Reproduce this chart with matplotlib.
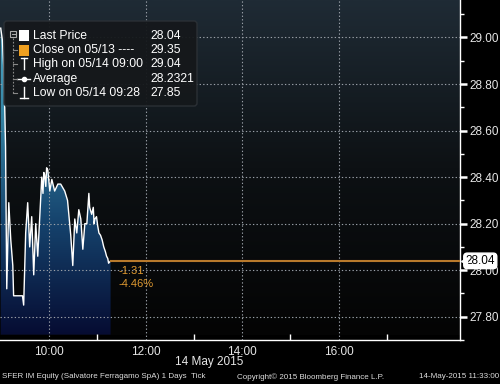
import numpy as np
import matplotlib.pyplot as plt
from matplotlib.patches import Polygon, Rectangle, FancyBboxPatch
from matplotlib.colors import LinearSegmentedColormap
from matplotlib.transforms import blended_transform_factory

plt.rcParams['font.family'] = ['Liberation Sans', 'DejaVu Sans']

# tick prices, minutes after 09:00 on 14 May 2015
minutes = [0, 2, 4, 6, 7.5, 10, 12.5, 15, 16, 27, 28.5, 31, 33.5, 36, 38.5, 41,
           43.5, 46, 48.5, 51, 52.5, 53.5, 54.5, 56, 57, 58.5, 61, 63.5, 67, 71,
           74.5, 79.5, 83, 87, 89.5, 92, 94.5, 97, 99.5, 102, 104.5, 107, 109.5,
           110.5, 113, 115, 116, 117, 119, 120.5, 122, 124, 126, 128, 130,
           131.5, 133, 134, 136.5]
prices = [29.04, 28.99, 28.86, 28.53, 27.92, 28.29, 28.13, 28.02, 27.89, 27.89,
          27.85, 28.16, 28.29, 28.10, 28.23, 27.98, 28.20, 28.06, 28.23, 28.40,
          28.33, 28.42, 28.41, 28.36, 28.44, 28.43, 28.34, 28.39, 28.34, 28.37,
          28.37, 28.34, 28.30, 28.15, 28.02, 28.22, 28.16, 28.26, 28.22, 28.09,
          28.20, 28.20, 28.33, 28.27, 28.24, 28.27, 28.20, 28.22, 28.23, 28.19,
          28.16, 28.15, 28.13, 28.10, 28.08, 28.06, 28.05, 28.03, 28.04]

last_price = 28.04
prev_close = 29.35
day_high = 29.04
day_avg = 28.2321
day_low = 27.85

y_ticks = [27.8, 28.0, 28.2, 28.4, 28.6, 28.8, 29.0]
x_ticks = [10, 12, 14, 16]
x_labels = ['10:00', '12:00', '14:00', '16:00']

times = 9 + np.array(minutes) / 60.0
x0, x1 = 8.985, 18.51
y0, y1 = 27.723, 29.161

fig = plt.figure(figsize=(5, 3.84), dpi=100, facecolor='black')
ax = fig.add_axes([0, 44 / 384, 460 / 500, 340 / 384])
ax.set_facecolor('black')

# background gradient
bg = LinearSegmentedColormap.from_list('bg', ['#040404', '#0d1114', '#1f2b35'])
grad = np.linspace(0, 1, 256).reshape(-1, 1)
ax.imshow(grad, extent=[x0, x1, y0, y1], aspect='auto', cmap=bg,
          origin='lower', zorder=0)

# area fill gradient clipped to price area
area = LinearSegmentedColormap.from_list('area', ['#060c32', '#15426c', '#3586a6', '#5ab4d0'])
verts = list(zip(times, prices)) + [(times[-1], y0), (times[0], y0)]
poly = Polygon(verts, closed=True, facecolor='none', edgecolor='none')
ax.add_patch(poly)
im = ax.imshow(grad, extent=[x0, x1, y0, y1], aspect='auto', cmap=area,
               origin='lower', zorder=1)
im.set_clip_path(poly)

ax.plot(times, prices, color='white', lw=1.0, zorder=3)
ax.plot([times[-1], x1], [last_price, last_price], color='#b87a2c', lw=1.5, zorder=3)

ax.set_xlim(x0, x1)
ax.set_ylim(y0, y1)

ax.grid(True, which='major', color='#9aa0a8', linestyle=(0, (1.2, 2)), linewidth=0.8)
ax.set_axisbelow(False)

for s in ['left', 'top']:
    ax.spines[s].set_visible(False)
for s in ['right', 'bottom']:
    ax.spines[s].set_color('white')
    ax.spines[s].set_linewidth(1)

ax.yaxis.tick_right()
ax.set_yticks(y_ticks)
ax.set_yticklabels(['%.2f' % v for v in y_ticks])
ax.set_yticks(np.arange(27.7, 29.15, 0.1), minor=True)
ax.tick_params(axis='y', which='major', colors='white', labelcolor='#e6e6e6',
               direction='out', length=5, width=1.8, labelsize=8.5, pad=2)
ax.tick_params(axis='y', which='minor', colors='white', direction='out',
               length=3, width=1)

ax.set_xticks(x_ticks)
ax.set_xticklabels(x_labels)
ax.set_xticks([11, 13, 15, 17], minor=True)
ax.tick_params(axis='x', which='major', length=0, labelcolor='#e6e6e6',
               labelsize=8.5, pad=4)
ax.tick_params(axis='x', which='minor', colors='white', direction='in',
               length=4, width=1)

# last price tag
tr = blended_transform_factory(ax.transAxes, ax.transData)
ax.text(1.012, last_price, '%.2f' % last_price, transform=tr, ha='left',
        va='center', fontsize=8.5, color='black', zorder=10, clip_on=False,
        bbox=dict(boxstyle='round,pad=0.15,rounding_size=0.3', fc='white', ec='white'))
ax.plot([1.008], [last_price], marker='<', color='white', ms=5, transform=tr,
        clip_on=False, zorder=10)

change = last_price - prev_close
pct = change / prev_close * 100
ax.annotate('%.2f' % change, xy=(times[-1], last_price), xytext=(6, -7),
            textcoords='offset points', color='#e09a30', fontsize=8, va='center')
ax.annotate('%.2f%%' % pct, xy=(times[-1], last_price), xytext=(6, -17),
            textcoords='offset points', color='#e09a30', fontsize=8, va='center')

fig.text(209 / 500, 1 - 362 / 384, '14 May 2015', ha='center', va='center',
         color='#e6e6e6', fontsize=8.5)

# legend panel drawn in pixel coords
ov = fig.add_axes([0, 0, 1, 1], zorder=5)
ov.set_xlim(0, 500)
ov.set_ylim(384, 0)
ov.axis('off')
ov.patch.set_alpha(0)
ov.add_patch(FancyBboxPatch((4, 21), 193, 85, boxstyle='round,pad=0,rounding_size=3',
                            fc='#15181b', ec='#2c3136', lw=1, alpha=0.95))
rows = [36, 50, 64, 79, 93]
names = ['Last Price', 'Close on 05/13 ----', 'High on 05/14 09:00', 'Average',
         'Low on 05/14 09:28']
vals = ['%.2f' % last_price, '%.2f' % prev_close, '%.2f' % day_high,
        '%.4f' % day_avg, '%.2f' % day_low]
for yy, n, v in zip(rows, names, vals):
    ov.text(33, yy, n, color='white', fontsize=8.7, va='center')
    ov.text(150, yy, v, color='white', fontsize=8.7, va='center')
ov.add_patch(Rectangle((19, 30), 10, 11, fc='white', ec='none'))
ov.add_patch(Rectangle((19, 45), 10, 11, fc='#f0a020', ec='none'))
ov.plot([21, 27], [58, 58], color='white', lw=1)
ov.plot([24, 24], [58, 69], color='white', lw=1)
ov.plot([17, 30], [79, 79], color='white', lw=1)
ov.plot([23.5], [79], marker='o', color='white', ms=3)
ov.plot([24, 24], [87, 98], color='white', lw=1)
ov.plot([20, 28], [98, 98], color='white', lw=1)
ov.add_patch(Rectangle((10, 31), 6, 6, fc='none', ec='#aaaaaa', lw=0.8))
ov.plot([11.5, 14.5], [34, 34], color='#aaaaaa', lw=0.8)
ov.plot([13, 13], [38, 93], color='#888888', lw=0.8, linestyle=(0, (1.5, 1.5)))
for yy in rows[1:]:
    ov.plot([13, 17], [yy, yy], color='#888888', lw=0.8)

fig.text(2 / 500, 1 - 377 / 384, 'SFER IM Equity (Salvatore Ferragamo SpA) 1 Days  Tick',
         color='#dddddd', fontsize=5.8, va='center')
fig.text(237 / 500, 1 - 377 / 384, 'Copyright\u00a9 2015 Bloomberg Finance L.P.',
         color='#dddddd', fontsize=5.8, va='center')
fig.text(499 / 500, 1 - 377 / 384, '14-May-2015 11:33:00', color='#dddddd',
         fontsize=5.8, va='center', ha='right')

fig.savefig('out.png', dpi=100, facecolor='black')
